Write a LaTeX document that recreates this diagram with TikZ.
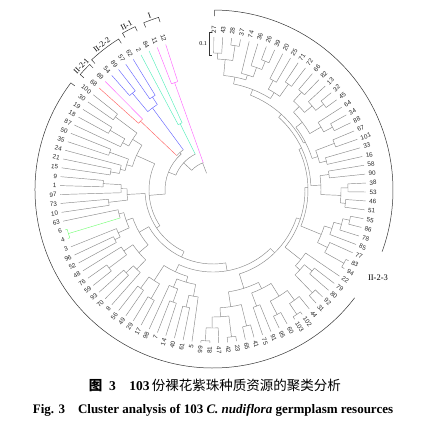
\documentclass[tikz,border=0pt]{standalone}
\usepackage{fontspec}
\setmainfont{Liberation Serif}
\setsansfont{Liberation Sans}
\newfontfamily\cjk{Noto Sans CJK SC}
\usetikzlibrary{positioning}

\definecolor{treegray}{HTML}{8A8A8A}
\definecolor{pinkc}{HTML}{FF66FF}
\definecolor{aquac}{HTML}{55EEBB}
\definecolor{bluec}{HTML}{6666FF}
\definecolor{redc}{HTML}{FF6666}
\definecolor{greenc}{HTML}{77FF77}

\tikzset{
  edge/.style={line width=0.45pt},
  leaflabel/.style={font=\sffamily\fontsize{6.3}{7}\selectfont, inner sep=0.4pt, text=black!85},
  groupline/.style={line width=0.5pt, black!80},
  groupname/.style={font=\fontsize{8}{9}\selectfont, inner sep=0pt},
}

% leaf: [colour]{position}{label}
\newcommand\tipr{153}
\newcommand\tleaf[3][treegray]{%
  \pgfmathsetmacro\lfang{108+(#2-1)*3.35}%
  \expandafter\xdef\csname ang@#3\endcsname{\lfang}%
  \expandafter\xdef\csname rad@#3\endcsname{\tipr}%
  \expandafter\xdef\csname col@#3\endcsname{#1}%
  \pgfmathsetmacro\lfmod{mod(\lfang,360)}%
  \pgfmathsetmacro\lfrot{\lfang-180}%
  \ifdim\lfmod pt>90pt
    \ifdim\lfmod pt<270pt
      \node[leaflabel, anchor=east, rotate=\lfrot] (l#3) at (\lfang:156) {#3};%
    \else
      \node[leaflabel, anchor=west, rotate=\lfang] (l#3) at (\lfang:156) {#3};%
    \fi
  \else
    \node[leaflabel, anchor=west, rotate=\lfang] (l#3) at (\lfang:156) {#3};%
  \fi
}
% clade: [colour]{name}{radius}{child a}{child b}
\newcommand\tclade[5][treegray]{%
  \edef\cla{\csname ang@#4\endcsname}\edef\clb{\csname ang@#5\endcsname}%
  \edef\rla{\csname rad@#4\endcsname}\edef\rlb{\csname rad@#5\endcsname}%
  \edef\coa{\csname col@#4\endcsname}\edef\cob{\csname col@#5\endcsname}%
  \draw[edge, #1] (\cla:#3) arc[start angle=\cla, end angle=\clb, radius=#3pt];
  \draw[edge, \coa] (\cla:#3) -- (\cla:\rla);
  \draw[edge, \cob] (\clb:#3) -- (\clb:\rlb);
  \pgfmathsetmacro\clm{(\cla+\clb)/2}%
  \coordinate (#2) at (\clm:#3);
  \expandafter\xdef\csname ang@#2\endcsname{\clm}%
  \expandafter\xdef\csname rad@#2\endcsname{#3}%
  \expandafter\xdef\csname col@#2\endcsname{#1}%
}
% group bracket: {name}{from}{to}{radius}{text}
\newcommand\grpbr[5]{%
  \pgfmathsetmacro\gbin{#4-5}\pgfmathsetmacro\gbout{#4+2}%
  \pgfmathsetmacro\gbm{(#2+#3)/2}\pgfmathsetmacro\gbr{\gbm-90}%
  \draw[groupline] (#2:\gbin) -- (#2:#4) arc[start angle=#2, end angle=#3, radius=#4pt] -- (#3:\gbin);
  \node[groupname, rotate=\gbr, anchor=south] (#1) at (\gbm:\gbout) {#5};
}

\begin{document}
\begin{tikzpicture}[x=1pt, y=1pt]
\useasboundingbox (-213,-255) rectangle (213,190);

% leaves
\tleaf[pinkc]{1}{12}
\tleaf[pinkc]{2}{11}
\tleaf[aquac]{3}{84}
\tleaf[aquac]{4}{2}
\tleaf[bluec]{5}{62}
\tleaf[bluec]{6}{57}
\tleaf[bluec]{7}{89}
\tleaf[bluec]{8}{54}
\tleaf[pinkc]{9}{69}
\tleaf[redc]{10}{68}
\tleaf[greenc]{27}{6}
\tleaf[greenc]{28}{4}
\foreach \i/\lab in {11/100, 12/30, 13/19, 14/18, 15/87, 16/50, 17/35, 18/24,
  19/21, 20/15, 21/9, 22/1, 23/97, 24/73, 25/10, 26/63, 29/3, 30/96, 31/52,
  32/48, 33/76, 34/59, 35/93, 36/70, 37/8, 38/56, 39/49, 40/29, 41/17, 42/98,
  43/7, 44/14, 45/40, 46/61, 47/5, 48/99, 49/81, 50/47, 51/42, 52/23, 53/65,
  54/41, 55/75, 56/91, 57/95, 58/60, 59/103, 60/102, 61/44, 62/31, 63/92,
  64/80, 65/79, 66/22, 67/94, 68/83, 69/77, 70/85, 71/78, 72/86, 73/55,
  74/51, 75/46, 76/53, 77/38, 78/90, 79/58, 80/16, 81/33, 82/101, 83/67,
  84/88, 85/34, 86/64, 87/45, 88/32, 89/13, 90/82, 91/66, 92/72, 93/71,
  94/25, 95/20, 96/39, 97/26, 98/36, 99/74, 100/37, 101/28, 102/43, 103/27}
  \tleaf{\i}{\lab};

% I, II-1, II-2-2 and the coloured part of II-2-1
\tclade[pinkc]{cI}{114}{12}{11}
\tclade[aquac]{cA}{74}{84}{2}
\tclade[bluec]{c1}{111}{62}{57}
\tclade[bluec]{c2}{126}{89}{54}
\tclade[bluec]{c3}{102}{c1}{c2}
\tclade[redc]{c4}{100}{69}{68}
\tclade{c5}{50}{c3}{c4}

% left part
\tclade{a1}{119}{19}{18}
\tclade{a2}{102}{a1}{87}
\tclade{a3}{122}{100}{30}
\tclade{a4}{95}{a3}{a2}
\tclade{a5}{110}{50}{35}
\tclade{a6}{104}{21}{15}
\tclade{a7}{95}{24}{a6}
\tclade{a8}{90}{a5}{a7}
\tclade{a9}{84}{a4}{a8}
\tclade{b1}{110}{9}{1}
\tclade{b2}{92}{b1}{97}
\tclade{b3}{105}{73}{10}
\tclade{b4}{86}{b2}{b3}

% lower left
\tclade[greenc]{g1}{151}{6}{4}
\tclade{g2}{97}{63}{g1}
\tclade{g3}{110}{96}{52}
\tclade{g4}{104}{3}{g3}
\tclade{g5}{92}{g2}{g4}
\tclade{g6}{130}{76}{59}
\tclade{g7}{108}{48}{g6}
\tclade{g8}{120}{93}{70}
\tclade{g9}{110}{g8}{8}
\tclade{g10}{97}{g7}{g9}
\tclade{g11}{85}{g5}{g10}
\tclade{g12}{122}{56}{49}
\tclade{g13}{125}{29}{17}
\tclade{g14}{108}{g12}{g13}
\tclade{g15}{119}{7}{14}
\tclade{g16}{105}{98}{g15}
\tclade{g17}{120}{40}{61}
\tclade{g18}{108}{g17}{5}
\tclade{g19}{96}{g16}{g18}
\tclade{g20}{90}{g14}{g19}

% lower right
\tclade{h1}{151}{99}{81}
\tclade{h2}{138}{h1}{47}
\tclade{h3}{148}{42}{23}
\tclade{h4}{127}{h2}{h3}
\tclade{h5}{140}{65}{41}
\tclade{h6}{118}{h4}{h5}
\tclade{h7}{124}{75}{91}
\tclade{h8}{140}{95}{60}
\tclade{h9}{150}{103}{102}
\tclade{h10}{137}{h9}{44}
\tclade{h11}{125}{h8}{h10}
\tclade{h12}{110}{h7}{h11}
\tclade{h13}{103}{h6}{h12}
\tclade{h14}{143}{31}{92}
\tclade{h15}{128}{80}{79}
\tclade{h16}{118}{h14}{h15}
\tclade{h17}{112}{h16}{22}

% right
\tclade{k1}{150}{94}{83}
\tclade{k2}{128}{k1}{77}
\tclade{k3}{140}{86}{55}
\tclade{k4}{133}{78}{k3}
\tclade{k5}{125}{85}{k4}
\tclade{k6}{117}{k2}{k5}
\tclade{k7}{133}{51}{46}
\tclade{k8}{135}{53}{38}
\tclade{k9}{128}{k7}{k8}
\tclade{k10}{117}{90}{58}
\tclade{k11}{108}{k9}{k10}

% upper right
\tclade{m1}{117}{16}{33}
\tclade{m2}{130}{101}{67}
\tclade{m3}{110}{m1}{m2}
\tclade{m4}{135}{88}{34}
\tclade{m5}{125}{m4}{64}
\tclade{m6}{140}{45}{32}
\tclade{m7}{130}{m6}{13}
\tclade{m8}{132}{82}{66}
\tclade{m9}{120}{m7}{m8}
\tclade{m10}{112}{m5}{m9}
\tclade{m11}{104}{m3}{m10}
\tclade{m12}{130}{72}{71}
\tclade{m13}{125}{25}{20}
\tclade{m14}{115}{m12}{m13}
\tclade{m15}{139}{39}{26}
\tclade{m16}{130}{36}{m15}
\tclade{m17}{120}{74}{m16}
\tclade{m18}{146}{37}{28}
\tclade{m19}{137}{43}{27}
\tclade{m20}{131}{m18}{m19}
\tclade{m21}{115}{m17}{m20}
\tclade{m22}{108}{m14}{m21}

% backbone
\tclade{q7}{102}{m11}{m22}
\tclade{q6}{98}{k11}{q7}
\tclade{q5}{95}{k6}{q6}
\tclade{q4}{92}{h17}{q5}
\tclade{q3}{88}{h13}{q4}
\tclade{q2}{82}{g20}{q3}
\tclade{q1}{74}{g11}{q2}
\tclade{n1}{68}{b4}{q1}
\tclade{n0}{64}{a9}{n1}
\tclade{cII2}{48}{c5}{n0}
\tclade{cII}{40}{cA}{cII2}
\tclade{root}{29}{cI}{cII}
\coordinate (roottop) at (111:29);
\coordinate (rootbase) at (111:18);
\draw[edge, treegray] (roottop) -- (rootbase);

% group marks
\grpbr{gI}{107.5}{112.5}{181}{I}
\grpbr{gII1}{115.5}{120}{181}{II-1}
\grpbr{gII22}{122}{133}{178}{II-2-2}
\grpbr{gII21}{134.5}{139}{176}{II-2-1}
\draw[groupline] (143:173) -- (143:178) arc[start angle=143, end angle=322.7, radius=178pt];
\draw[groupline] (89.5:174) -- (89.5:180) arc[start angle=89.5, end angle=-20, radius=180pt];
\node[groupname, font=\fontsize{8.5}{10}\selectfont] (gII23) at (165,-88) {II-2-3};

% scale bar
\coordinate (sbtop) at (-4,158);
\coordinate (sbbot) at (-4,135);
\draw[groupline] ([xshift=3pt]sbtop) -- (sbtop) -- (sbbot) -- ([xshift=3pt]sbbot);
\node[font=\fontsize{6}{7}\selectfont, anchor=east, inner sep=1pt] (sblabel) at (-5,146.5) {0.1};

% caption
\node[font=\fontsize{13.5}{15}\selectfont] (capzh) at (2,-195)
  {\textbf{{\cjk 图}\enspace 3}\quad\textbf{103}\,{\cjk 份裸花紫珠种质资源的聚类分析}};
\node[font=\bfseries\fontsize{13}{15}\selectfont] (capen) at (0,-220)
  {Fig. 3\quad Cluster analysis of 103 \textit{C. nudiflora} germplasm resources};
\end{tikzpicture}
\end{document}
